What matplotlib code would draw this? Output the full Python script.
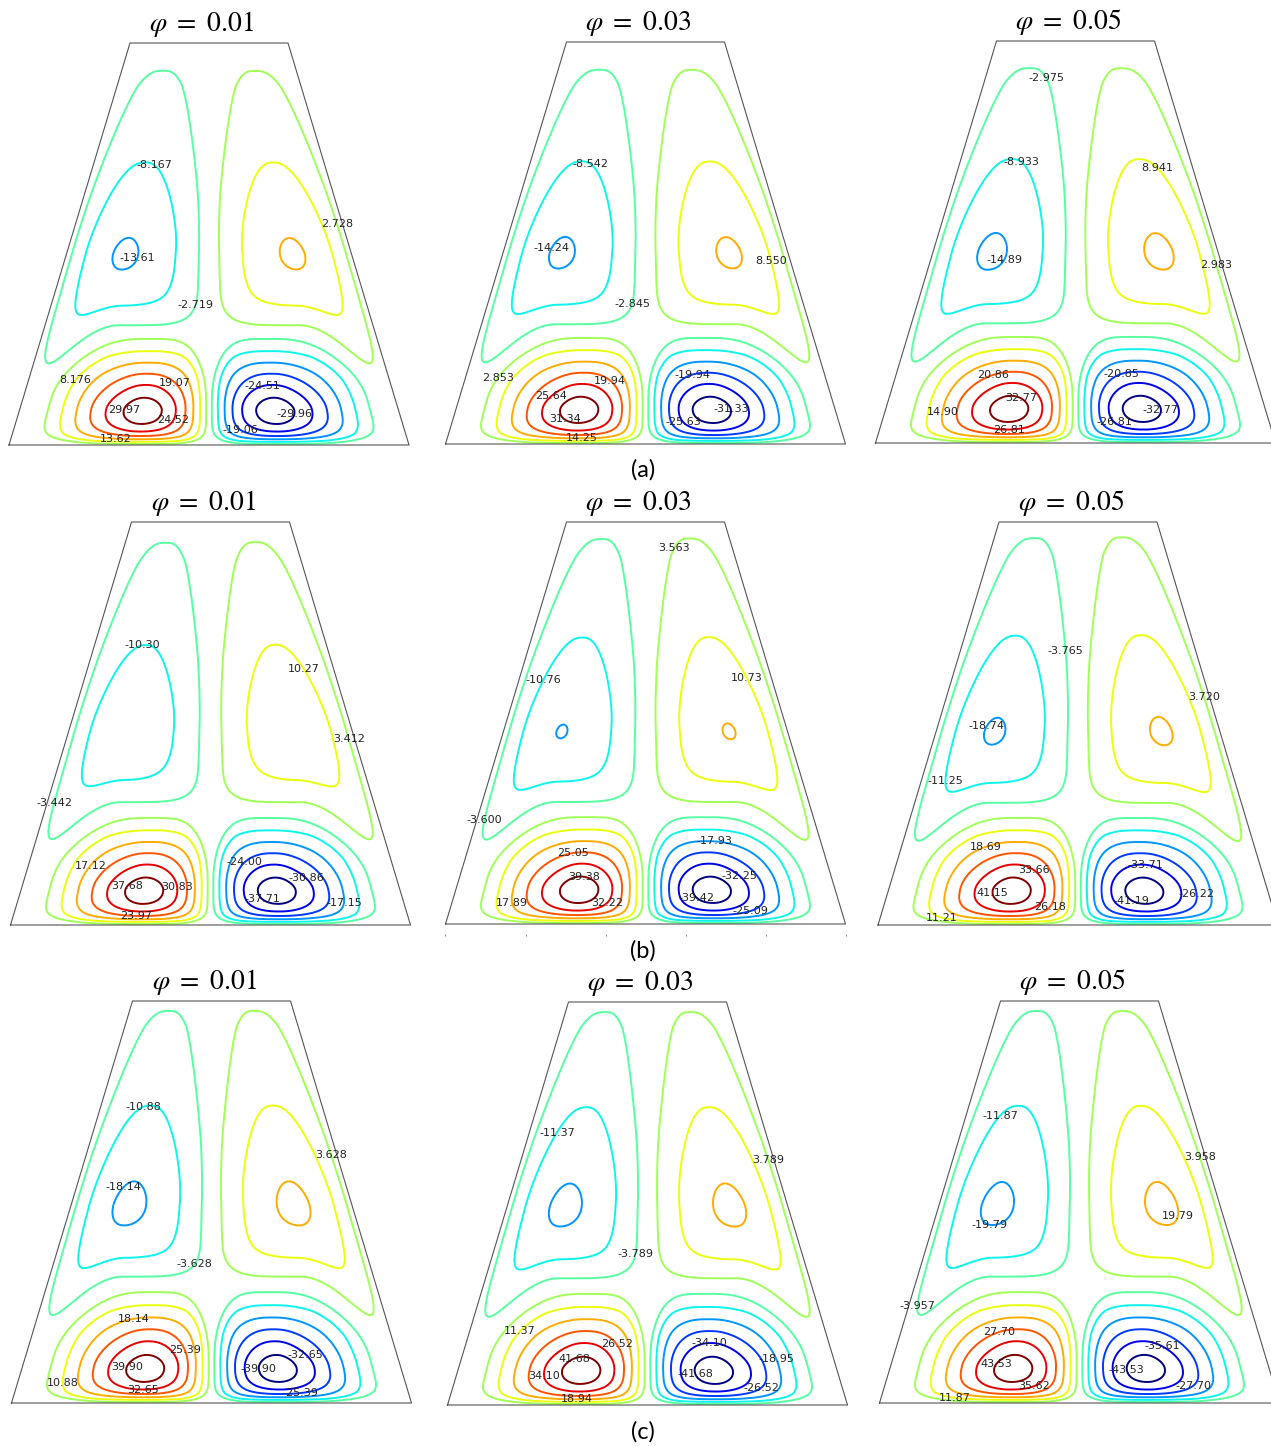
import numpy as np
import matplotlib.pyplot as plt

plt.rcParams['mathtext.fontset'] = 'stix'

phi_values = ['0.01', '0.03', '0.05']
row_names = ['(a)', '(b)', '(c)']

# contour levels (as printed on the contour labels), one list per panel
levels_a = [
    [-29.96, -24.51, -19.06, -13.61, -8.167, -2.719, 2.728, 8.176, 13.62, 19.07, 24.52, 29.97],
    [-31.33, -25.63, -19.94, -14.24, -8.542, -2.845, 2.853, 8.550, 14.25, 19.94, 25.64, 31.34],
    [-32.77, -26.81, -20.85, -14.89, -8.933, -2.975, 2.983, 8.941, 14.90, 20.86, 26.81, 32.77],
]
levels_b = [
    [-37.71, -30.86, -24.00, -17.15, -10.30, -3.442, 3.412, 10.27, 17.12, 23.97, 30.83, 37.68],
    [-39.42, -32.25, -25.09, -17.93, -10.76, -3.600, 3.563, 10.73, 17.89, 25.05, 32.22, 39.38],
    [-41.19, -33.71, -26.22, -18.74, -11.25, -3.765, 3.720, 11.21, 18.69, 26.18, 33.66, 41.15],
]
levels_c = [
    [-39.90, -32.65, -25.39, -18.14, -10.88, -3.628, 3.628, 10.88, 18.14, 25.39, 32.65, 39.90],
    [-41.68, -34.10, -26.52, -18.95, -11.37, -3.789, 3.789, 11.37, 18.94, 26.52, 34.10, 41.68],
    [-43.53, -35.61, -27.70, -19.79, -11.87, -3.957, 3.958, 11.87, 19.79, 27.70, 35.62, 43.53],
]

# estimated peak stream function of the upper (weak) and lower (strong) cells
upper_peak_a = [14.1, 14.75, 15.6]
upper_peak_b = [16.3, 18.05, 19.2]
upper_peak_c = [19.3, 20.1, 21.0]
lower_peak_a = [32.7, 34.2, 35.75]
lower_peak_b = [41.1, 43.0, 44.9]
lower_peak_c = [43.5, 45.5, 47.5]

# per row: height of the upper vortex centres, how far the upper cells reach
# upwards and how far the lower cells reach upwards (fractions of the height)
upper_core = [0.473, 0.478, 0.49]
upper_reach = [0.62, 0.656, 0.652]
lower_reach = [0.195, 0.197, 0.208]

all_levels = [levels_a, levels_b, levels_c]
all_upper = [upper_peak_a, upper_peak_b, upper_peak_c]
all_lower = [lower_peak_a, lower_peak_b, lower_peak_c]

# where each label sits (same order as the levels), x/y in panel units
label_pos = [
    [[(87, 31), (55, 55), (30, 14), (-75, 188), (-54, 281), (-14, 140), (127, 221), (-132, 63), (-93, 8), (-38, 58), (-33, 23), (-86, 36)],
     [(86, 35), (36, 20), (48, 65), (-92, 195), (-54, 281), (-15, 141), (-146, 65), (126, 183), (-64, 7), (-39, 59), (-97, 51), (-80, 26)],
     [(88, 33), (37, 19), (48, 64), (-75, 185), (-54, 281), (-30, 364), (142, 178), (80, 274), (-132, 31), (-83, 70), (-67, 13), (-56, 42)]],
    [[(53, 27), (98, 50), (38, 59), (134, 22), (-71, 292), (-158, 122), (139, 186), (98, 258), (-120, 59), (-75, 9), (-35, 38), (-87, 41)],
     [(52, 27), (97, 51), (104, 14), (69, 83), (-103, 245), (-162, 105), (23, 379), (103, 247), (-131, 21), (-72, 72), (-39, 22), (-62, 47)],
     [(56, 28), (67, 60), (125, 32), (-89, 197), (-135, 144), (-10, 273), (127, 228), (-135, 11), (-92, 78), (-29, 19), (-45, 54), (-87, 32)]],
    [[(51, 34), (98, 52), (88, 17), (-80, 208), (-71, 302), (-21, 142), (119, 248), (-151, 20), (-78, 85), (-31, 51), (-68, 15), (-92, 39)],
     [(53, 33), (62, 64), (115, 15), (130, 47), (-93, 273), (-17, 152), (120, 244), (-124, 70), (-71, 7), (-34, 58), (-111, 28), (-75, 50)],
     [(53, 34), (85, 61), (115, 16), (-90, 179), (-82, 290), (-164, 97), (120, 246), (-125, 5), (102, 186), (-82, 74), (-47, 21), (-88, 44)]],
]

# panel placement in pixels: centre x, bottom y, top y
panel_cx = [[209, 645.5, 1075.5], [210.5, 645.5, 1078], [211.5, 647.5, 1079.5]]
panel_bot = [[445, 444, 443], [925, 924, 925], [1403, 1405, 1403]]
panel_top = [[43, 42, 41], [522, 522, 522], [1001, 1002, 1001]]

W, H = 1271, 1446
HGT = 402.0


def sat(d, alpha):
    return d * (1 + alpha) / (1 + alpha * d)


def cell_shape(rx, ry, pmax):
    m = np.clip(np.hypot(rx, ry), 0, 1)
    p = 2 + (pmax - 2) * m ** 3
    r = (rx ** p + ry ** p) ** (1 / p)
    return np.clip(1 - r ** 2, 0, None)


def stream(xx, yy, up_peak, low_peak, ec2, up_reach, low_reach):
    eta = yy / HGT
    w = 200.0 - 121.0 * eta
    xi = xx / w
    u = np.abs(xi)

    # lower pair of cells
    uc, ec = 0.35, 0.085
    rx = np.where(u < uc, (uc - u) / uc, sat(np.abs(u - uc) / 0.54, 0.79))
    ry = np.where(eta < ec, sat(np.clip(ec - eta, 0, ec) / ec, -0.35),
                  sat(np.abs(eta - ec) / low_reach, 1.03))
    g_low = cell_shape(rx, ry, 4.0)

    # upper pair of cells
    uc2 = 0.59 - 0.15 * np.clip(eta - ec2, 0, None)
    bdown = 0.195 + 0.16 * np.clip((u - 0.55) / 0.4, 0, None) ** 2
    rx2 = np.where(u < uc2, sat(np.abs(uc2 - u) / uc2, 0.216),
                   sat(np.abs(u - uc2) / (1 - uc2), -0.1))
    ry2 = np.where(eta < ec2, np.abs(ec2 - eta) / bdown,
                   sat(np.abs(eta - ec2) / up_reach, 2.13))
    g_up = np.where(eta < ec2, cell_shape(rx2, ry2, 6.0), cell_shape(rx2, ry2, 3.6))

    psi = np.sign(xi) * (up_peak * g_up - low_peak * g_low)
    return np.where(u <= 1.0, psi, np.nan)


def fmt(v):
    return f'{v:#.4g}'


xs = np.linspace(-200, 200, 701)
ys = np.linspace(0, HGT, 705)
XX, YY = np.meshgrid(xs, ys)

fig = plt.figure(figsize=(W / 100, H / 100), dpi=100)

for i in range(3):
    for j in range(3):
        cx, by, ty = panel_cx[i][j], panel_bot[i][j], panel_top[i][j]
        ax = fig.add_axes([(cx - 200) / W, 1 - by / H, 400 / W, (by - ty) / H])
        lev = all_levels[i][j]
        psi = stream(XX, YY, all_upper[i][j], all_lower[i][j],
                     upper_core[i], upper_reach[i], lower_reach[i])
        cs = ax.contour(XX, YY, psi, levels=lev, cmap='jet', linewidths=1.4)
        ax.set_xlim(-200, 200)
        ax.set_ylim(0, HGT)
        ax.plot([-200, 200, 79, -79, -200], [0, 0, HGT, HGT, 0],
                color='#555555', lw=0.8, clip_on=False)
        # put each label on the nearest point of its own contour line
        paths = cs.get_paths()
        for k, (lv, pos) in enumerate(zip(lev, label_pos[i][j])):
            px, py = pos
            verts = paths[k].vertices if k < len(paths) else np.empty((0, 2))
            if len(verts):
                d = (verts[:, 0] - px) ** 2 + (verts[:, 1] - py) ** 2
                px, py = verts[np.argmin(d)]
            ax.text(px, py, fmt(lv), ha='center', va='center', fontsize=8,
                    color='#222222')
        for sp in ax.spines.values():
            sp.set_visible(False)
        ax.set_yticks([])
        if i == 1 and j == 1:
            ax.set_xticks([-200, -120, -40, 40, 120, 200])
            ax.set_xticklabels([])
            ax.spines['bottom'].set_position(('outward', 7))
            ax.tick_params(axis='x', length=1.5, width=0.8, color='#888888')
        else:
            ax.set_xticks([])
        fig.text((cx - 7) / W, 1 - (ty - 19) / H,
                 r'$\varphi\ =\ $' + r'$' + phi_values[j] + r'$',
                 ha='center', va='center', fontsize=20)
    fig.text(643 / W, 1 - [470, 951, 1432][i] / H, row_names[i],
             ha='center', va='center', fontsize=17, family='Lato')

fig.savefig('out.png', dpi=100)
